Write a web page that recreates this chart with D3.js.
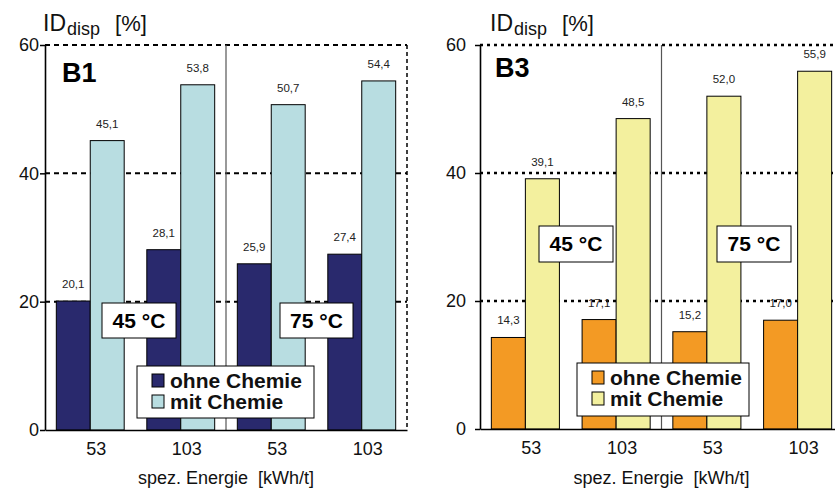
<!DOCTYPE html>
<html>
<head>
<meta charset="utf-8">
<script src="https://cdn.jsdelivr.net/npm/d3@7"></script>
<style>
  html, body { margin: 0; padding: 0; background: #fff; }
  svg { display: block; }
  text { font-family: "Liberation Sans", Arial, Helvetica, sans-serif; white-space: pre; }
</style>
</head>
<body>
<svg id="chart" width="835" height="489"></svg>
<script>
// ---- data ----
const categories = ["53", "103", "53", "103"];
const temperatures = ["45 °C", "75 °C"];
const seriesNames = ["ohne Chemie", "mit Chemie"];
const panelNames = ["B1", "B3"];
const b1Ohne = [20.1, 28.1, 25.9, 27.4];
const b1Mit  = [45.1, 53.8, 50.7, 54.4];
const b3Ohne = [14.3, 17.1, 15.2, 17.0];
const b3Mit  = [39.1, 48.5, 52.0, 55.9];
const yTicks = [0, 20, 40, 60];
const yTitle = "ID";
const yTitleSub = "disp";
const yTitleUnit = "[%]";
const xTitle = "spez. Energie  [kWh/t]";

const svg = d3.select("#chart");
const fmt = v => d3.format(".1f")(v).replace(".", ",");

const panels = [
  {
    name: panelNames[0], ohne: b1Ohne, mit: b1Mit,
    colors: ["#29296d", "#b8dde1"],
    left: 45, right: 407, top: 45, bottom: 430,
    labelPad: 1, gridDash: "5,4", gridWidth: 2,
    nameX: 62, nameY: 82, titleX: 43,
    tempBoxes: [{x: 102, y: 303, w: 74, h: 35}, {x: 280, y: 303, w: 73, h: 35}],
    legend: {x: 137, y: 366, w: 177, h: 52}
  },
  {
    name: panelNames[1], ohne: b3Ohne, mit: b3Mit,
    colors: ["#f39a24", "#f3f09e"],
    left: 480, right: 843, top: 45, bottom: 429,
    labelPad: 9, gridDash: "3,4", gridWidth: 2.5,
    nameX: 495, nameY: 77, titleX: 490,
    tempBoxes: [{x: 539, y: 226, w: 74, h: 36}, {x: 717, y: 226, w: 74, h: 36}],
    legend: {x: 577, y: 363, w: 172, h: 53}
  }
];

panels.forEach(p => {
  const g = svg.append("g");
  const x0 = d3.scaleBand().domain(d3.range(categories.length))
    .range([p.left, p.right]).paddingInner(0.25).paddingOuter(0.125);
  const x1 = d3.scaleBand().domain([0, 1]).range([0, x0.bandwidth()]);
  const y = d3.scaleLinear().domain([0, 60]).range([p.bottom, p.top]);

  // gridlines (dashed) incl. top line
  g.append("g").selectAll("line").data(yTicks.filter(t => t > 0)).join("line")
    .attr("x1", p.left).attr("x2", p.right)
    .attr("y1", d => y(d)).attr("y2", d => y(d))
    .attr("stroke", "#000").attr("stroke-width", p.gridWidth)
    .attr("stroke-dasharray", p.gridDash);
  // right border dashed
  g.append("line").attr("x1", p.right).attr("x2", p.right)
    .attr("y1", y(60)).attr("y2", y(0))
    .attr("stroke", "#000").attr("stroke-width", 1.5).attr("stroke-dasharray", "4,3");

  // divider between temperature groups
  const midX = (x0(1) + x0.bandwidth() + x0(2)) / 2;
  g.append("line").attr("x1", midX).attr("x2", midX)
    .attr("y1", y(60)).attr("y2", y(0))
    .attr("stroke", "#555").attr("stroke-width", 1.2);

  // bars
  const rows = categories.map((c, i) => ({i, vals: [p.ohne[i], p.mit[i]]}));
  const grp = g.append("g").selectAll("g").data(rows).join("g")
    .attr("transform", d => `translate(${x0(d.i)},0)`);
  grp.selectAll("rect").data(d => d.vals.map((v, s) => ({v, s}))).join("rect")
    .attr("x", d => x1(d.s)).attr("width", x1.bandwidth())
    .attr("y", d => y(d.v)).attr("height", d => y(0) - y(d.v))
    .attr("fill", d => p.colors[d.s]).attr("stroke", "#000").attr("stroke-width", 1);
  grp.selectAll("text").data(d => d.vals.map((v, s) => ({v, s}))).join("text")
    .attr("x", d => x1(d.s) + x1.bandwidth() / 2).attr("y", d => y(d.v) - 13)
    .attr("text-anchor", "middle").attr("font-size", 11.5).attr("fill", "#222")
    .text(d => fmt(d.v));

  // y axis
  const yAxis = g.append("g").attr("transform", `translate(${p.left},0)`)
    .call(d3.axisLeft(y).tickValues(yTicks).tickSize(5).tickSizeOuter(0).tickPadding(p.labelPad));
  yAxis.select(".domain").attr("stroke", "#000").attr("stroke-width", 1.6);
  yAxis.selectAll(".tick line").attr("stroke", "#000").attr("stroke-width", 1.5);
  yAxis.selectAll("text").attr("font-size", 18).attr("fill", "#111");

  // x axis
  const xAxis = g.append("g").attr("transform", `translate(0,${y(0)})`)
    .call(d3.axisBottom(x0).tickFormat(i => categories[i]).tickSize(0).tickPadding(12));
  xAxis.select(".domain").attr("stroke", "#000").attr("stroke-width", 1.6);
  xAxis.selectAll("text").attr("font-size", 18).attr("fill", "#111").attr("dx", 6);

  // x title
  g.append("text").attr("x", midX).attr("y", 484).attr("text-anchor", "middle")
    .attr("font-size", 18).attr("fill", "#111").text(xTitle);

  // y title
  const t = g.append("text").attr("x", p.titleX).attr("y", 31).attr("fill", "#111");
  t.append("tspan").attr("font-size", 23).text(yTitle);
  t.append("tspan").attr("font-size", 18).attr("dx", 1).attr("dy", 4).text(yTitleSub);
  t.append("tspan").attr("font-size", 22).attr("dy", -4).attr("dx", 15).text(yTitleUnit);

  // panel name
  g.append("text").attr("x", p.nameX).attr("y", p.nameY)
    .attr("font-size", 27).attr("font-weight", "bold").attr("fill", "#000").text(p.name);

  // temperature boxes
  p.tempBoxes.forEach((b, k) => {
    g.append("rect").attr("x", b.x).attr("y", b.y).attr("width", b.w).attr("height", b.h)
      .attr("fill", "#fff").attr("stroke", "#000").attr("stroke-width", 1);
    g.append("text").attr("x", b.x + b.w / 2).attr("y", b.y + b.h / 2 + 7)
      .attr("text-anchor", "middle").attr("font-size", 21).attr("font-weight", "bold")
      .attr("fill", "#000").text(temperatures[k]);
  });

  // legend
  const L = p.legend;
  g.append("rect").attr("x", L.x).attr("y", L.y).attr("width", L.w).attr("height", L.h)
    .attr("fill", "#fff").attr("stroke", "#000").attr("stroke-width", 1);
  seriesNames.forEach((s, k) => {
    const ry = L.y + 8 + k * 21;
    g.append("rect").attr("x", L.x + 15).attr("y", ry).attr("width", 12).attr("height", 13)
      .attr("fill", p.colors[k]).attr("stroke", "#000").attr("stroke-width", 1);
    g.append("text").attr("x", L.x + 33).attr("y", ry + 14)
      .attr("font-size", 21).attr("font-weight", "bold").attr("fill", "#111").text(s);
  });
});
</script>
</body>
</html>
